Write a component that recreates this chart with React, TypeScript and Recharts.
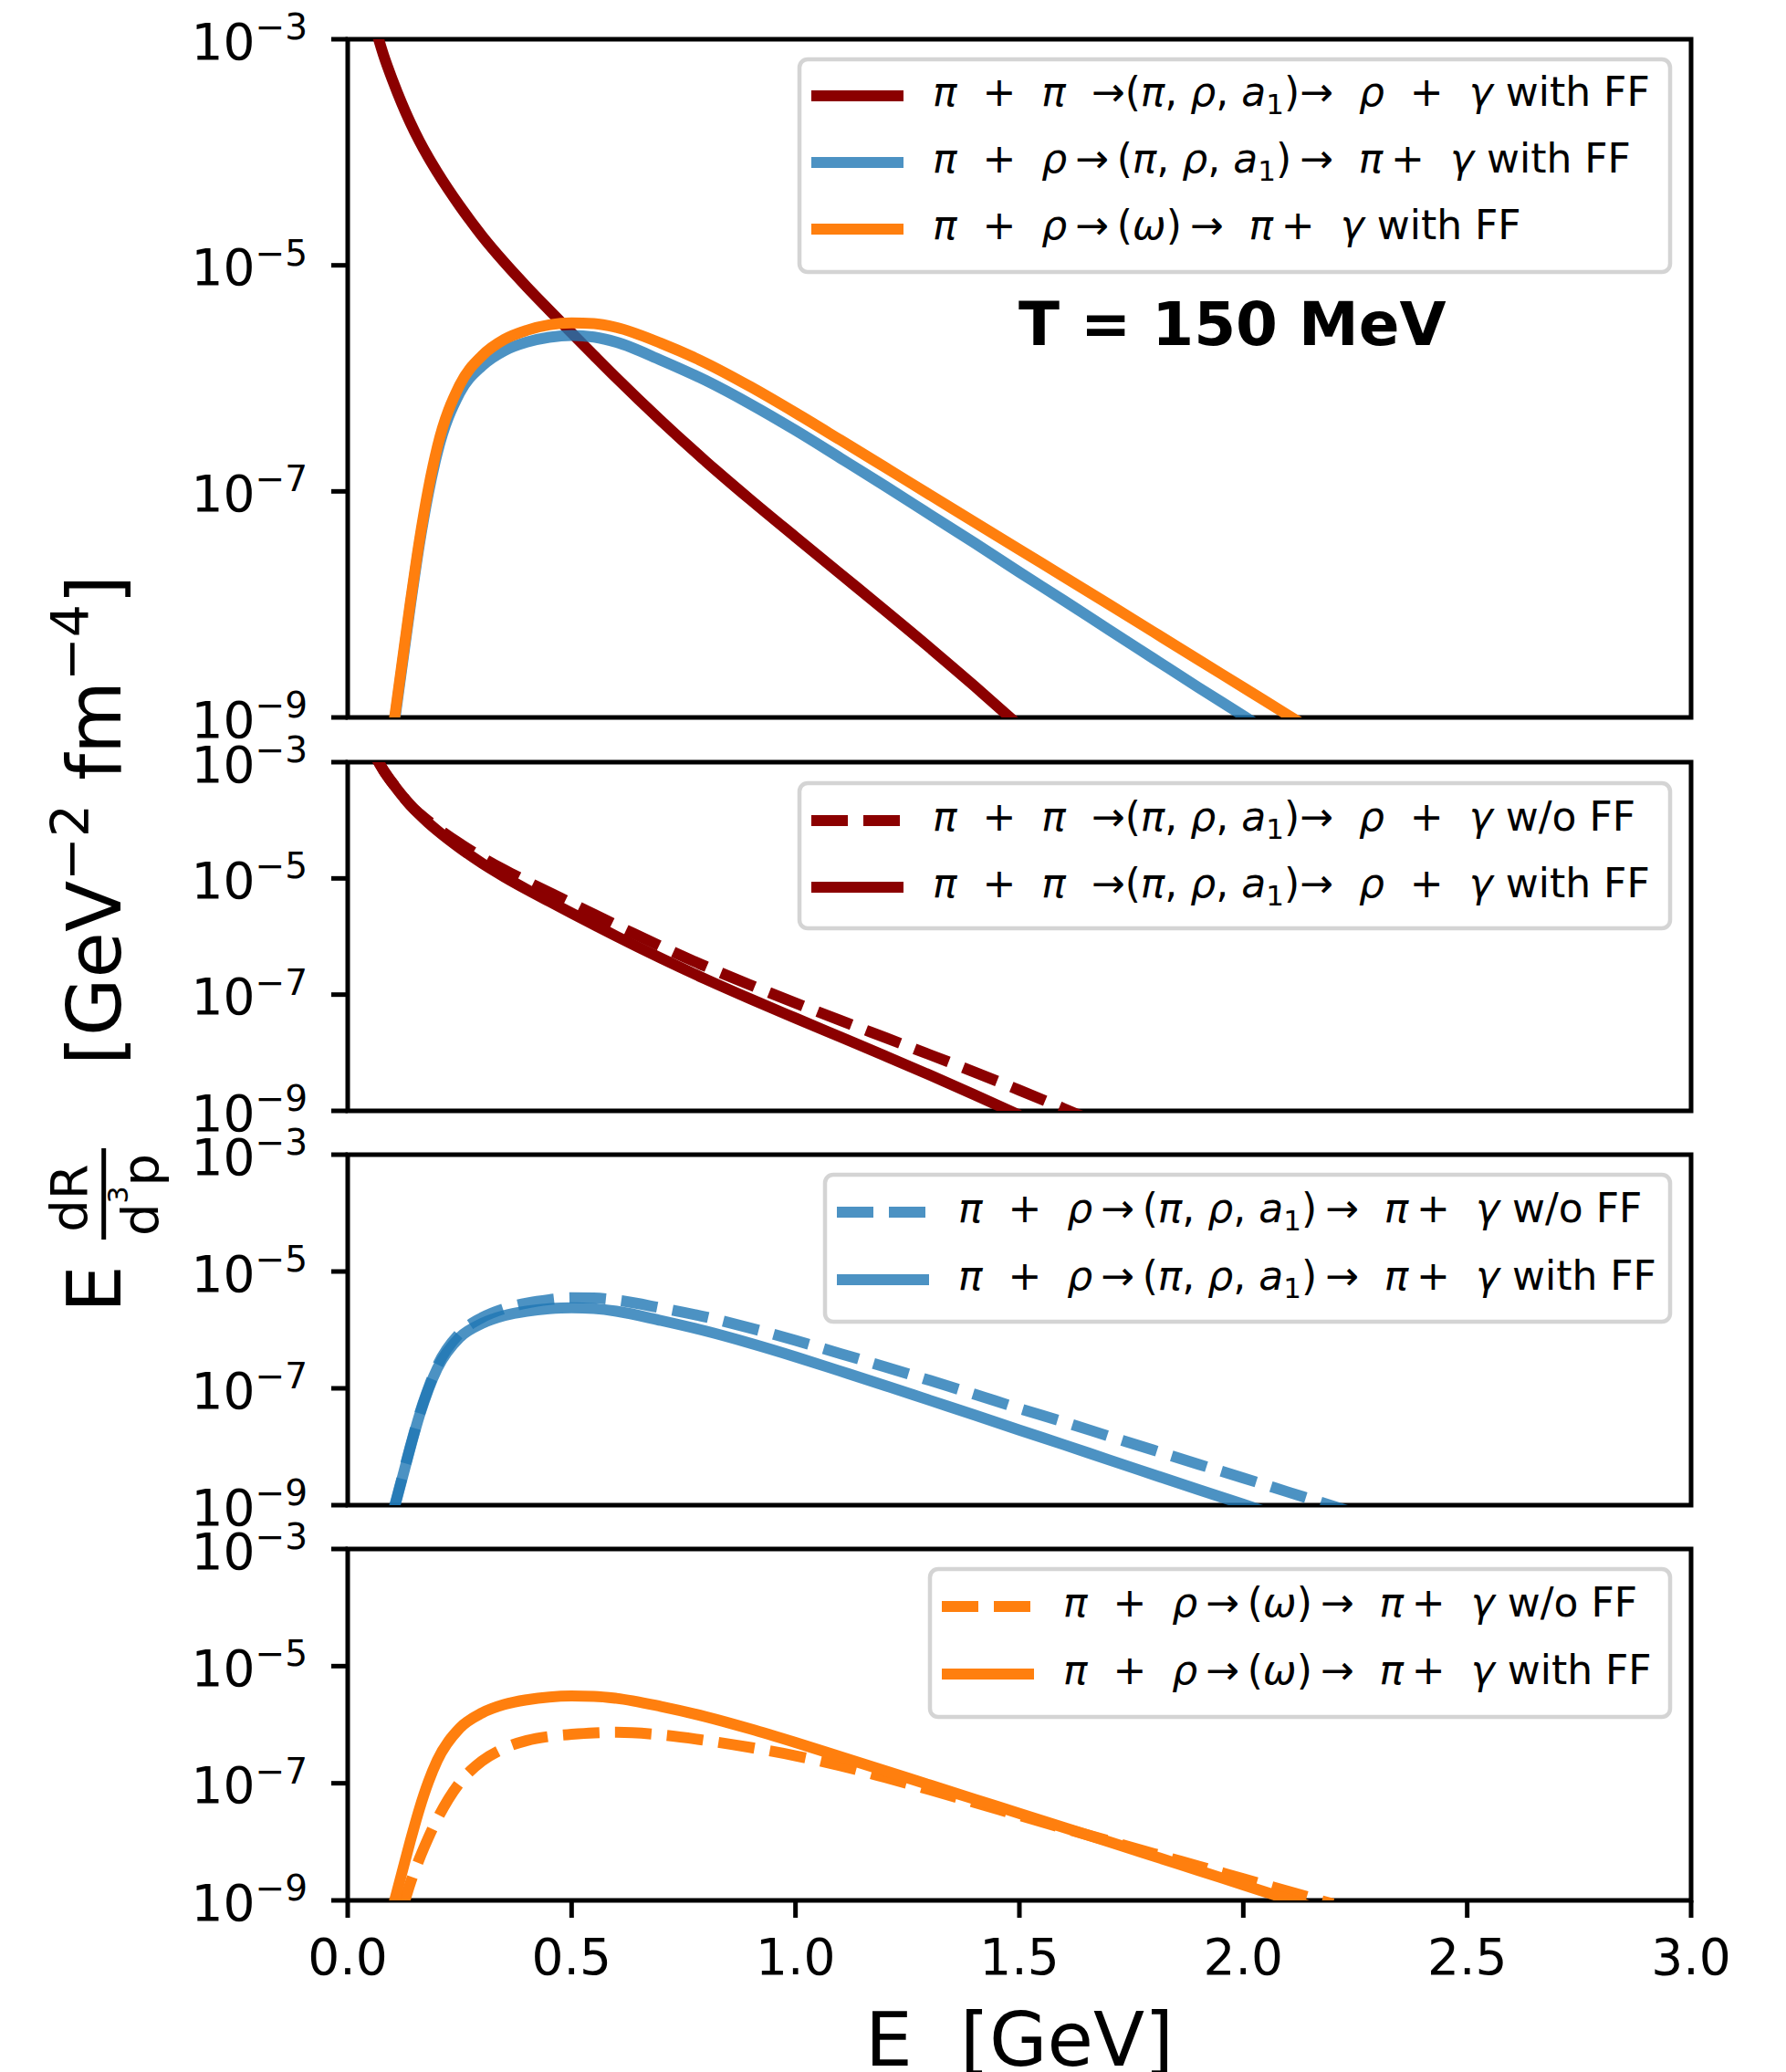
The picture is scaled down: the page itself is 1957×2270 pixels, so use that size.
import React from 'react';
import { LineChart, Line, XAxis, YAxis, ReferenceArea } from 'recharts';

// photon energy grid [GeV]
const energy = [0.06, 0.08, 0.1, 0.12, 0.14, 0.16, 0.18, 0.2, 0.25, 0.3, 0.35, 0.4, 0.45, 0.5, 0.55, 0.6, 0.7, 0.8, 0.9, 1.0, 1.1, 1.2, 1.3, 1.4, 1.5, 1.6, 1.7, 1.8, 1.9, 2.0, 2.1, 2.2, 2.3];

// log10 of E dR/d3p [GeV^-2 fm^-4] (null = not drawn)
const pipiWithFF = [-2.874, -3.14, -3.36, -3.56, -3.74, -3.9, -4.044, -4.176, -4.474, -4.74, -4.975, -5.191, -5.396, -5.598, -5.798, -5.996, -6.376, -6.736, -7.076, -7.404, -7.729, -8.054, -8.384, -8.724, -9.074, null, null, null, null, null, null, null, null];
const pipiNoFF = [-2.874, -3.14, -3.36, -3.56, -3.74, -3.885, -4.014, -4.131, -4.399, -4.64, -4.855, -5.051, -5.241, -5.428, -5.618, -5.806, -6.171, -6.516, -6.836, -7.144, -7.444, -7.739, -8.034, -8.334, -8.644, -8.964, -9.29, null, null, null, null, null, null];
const pirhoA1WithFF = [null, null, -9.17, -8.59, -8.01, -7.47, -7.02, -6.66, -6.13, -5.89, -5.755, -5.68, -5.637, -5.62, -5.635, -5.68, -5.84, -6.02, -6.23, -6.46, -6.705, -6.952, -7.205, -7.457, -7.715, -7.967, -8.225, -8.48, -8.735, -8.985, -9.24, null, null];
const pirhoA1NoFF = [null, null, -9.15, -8.57, -7.99, -7.45, -7.0, -6.62, -6.06, -5.79, -5.635, -5.54, -5.482, -5.45, -5.455, -5.49, -5.625, -5.78, -5.97, -6.18, -6.405, -6.632, -6.865, -7.102, -7.345, -7.577, -7.82, -8.06, -8.3, -8.535, -8.775, -9.015, -9.26];
const pirhoOmegaWithFF = [null, null, -9.14, -8.56, -7.98, -7.44, -6.98, -6.61, -6.06, -5.8, -5.655, -5.575, -5.527, -5.51, -5.515, -5.55, -5.69, -5.865, -6.075, -6.305, -6.545, -6.787, -7.03, -7.272, -7.515, -7.757, -8.0, -8.245, -8.49, -8.735, -8.98, -9.225, null];
const pirhoOmegaNoFF = [null, null, null, -9.2, -8.7, -8.29, -7.93, -7.61, -6.99, -6.62, -6.4, -6.27, -6.2, -6.165, -6.14, -6.13, -6.175, -6.27, -6.39, -6.53, -6.7, -6.9, -7.11, -7.33, -7.55, -7.77, -7.985, -8.2, -8.415, -8.63, -8.845, -9.06, null];

const xTicks = [0, 0.5, 1.0, 1.5, 2.0, 2.5, 3.0];
const yTicks = [1e-9, 1e-7, 1e-5, 1e-3];

const toRate = (v: number | null) => (v == null ? null : Math.pow(10, v));
const rows = energy.map((E, i) => ({
  E,
  pipiWithFF: toRate(pipiWithFF[i]),
  pipiNoFF: toRate(pipiNoFF[i]),
  pirhoA1WithFF: toRate(pirhoA1WithFF[i]),
  pirhoA1NoFF: toRate(pirhoA1NoFF[i]),
  pirhoOmegaWithFF: toRate(pirhoOmegaWithFF[i]),
  pirhoOmegaNoFF: toRate(pirhoOmegaNoFF[i]),
}));

const W = 1957;
const H = 2270;
const PLOT_LEFT = 381;
const PLOT_RIGHT = 1853;
const FONT = 'DejaVu Sans';
const LW = 12;

const RED = '#8b0000';
const BLUE = '#1f77b4';
const ORANGE = '#ff7f0e';
const DASH = '40 17';

type Series = { key: string; color: string; opacity: number; dashed: boolean };

const panels: { top: number; bottom: number; series: Series[] }[] = [
  {
    top: 43,
    bottom: 786,
    series: [
      { key: 'pipiWithFF', color: RED, opacity: 1, dashed: false },
      { key: 'pirhoA1WithFF', color: BLUE, opacity: 0.8, dashed: false },
      { key: 'pirhoOmegaWithFF', color: ORANGE, opacity: 1, dashed: false },
    ],
  },
  {
    top: 835,
    bottom: 1217,
    series: [
      { key: 'pipiNoFF', color: RED, opacity: 1, dashed: true },
      { key: 'pipiWithFF', color: RED, opacity: 1, dashed: false },
    ],
  },
  {
    top: 1265,
    bottom: 1649,
    series: [
      { key: 'pirhoA1NoFF', color: BLUE, opacity: 0.8, dashed: true },
      { key: 'pirhoA1WithFF', color: BLUE, opacity: 0.8, dashed: false },
    ],
  },
  {
    top: 1697,
    bottom: 2082,
    series: [
      { key: 'pirhoOmegaNoFF', color: ORANGE, opacity: 1, dashed: true },
      { key: 'pirhoOmegaWithFF', color: ORANGE, opacity: 1, dashed: false },
    ],
  },
];

const YTick = (props: any) => {
  const { x, y, payload } = props;
  const exp = Math.round(Math.log10(payload.value));
  return (
    <text x={x} y={y + 21.6} textAnchor="end" fontFamily={FONT} fontSize={55} fill="#000">
      10
      <tspan dy={-21.6} fontSize={39}>{`\u2212${-exp}`}</tspan>
    </text>
  );
};

const XTick = (props: any) => {
  const { x, y, payload } = props;
  return (
    <text x={x} y={y} dy={52} textAnchor="middle" fontFamily={FONT} fontSize={55} fill="#000">
      {Number(payload.value).toFixed(1)}
    </text>
  );
};

type Part = { t: string; it?: boolean; sub?: boolean };
const pipiLabel = (suffix: string): Part[] => [
  { t: 'π', it: true }, { t: '  +  ' }, { t: 'π', it: true }, { t: '  →(' }, { t: 'π', it: true }, { t: ', ' },
  { t: 'ρ', it: true }, { t: ', ' }, { t: 'a', it: true }, { t: '1', sub: true }, { t: ')→  ' },
  { t: 'ρ', it: true }, { t: '  +  ' }, { t: 'γ', it: true }, { t: ' ' + suffix },
];
const pirhoA1Label = (suffix: string): Part[] => [
  { t: 'π', it: true }, { t: '  +  ' }, { t: 'ρ', it: true }, { t: '\u2009→\u2009(' }, { t: 'π', it: true }, { t: ', ' },
  { t: 'ρ', it: true }, { t: ', ' }, { t: 'a', it: true }, { t: '1', sub: true }, { t: ')\u2009→  ' },
  { t: 'π', it: true }, { t: '\u2009+  ' }, { t: 'γ', it: true }, { t: ' ' + suffix },
];
const pirhoOmegaLabel = (suffix: string): Part[] => [
  { t: 'π', it: true }, { t: '  +  ' }, { t: 'ρ', it: true }, { t: '\u2009→\u2009(' }, { t: 'ω', it: true }, { t: ')\u2009→  ' },
  { t: 'π', it: true }, { t: '\u2009+  ' }, { t: 'γ', it: true }, { t: ' ' + suffix },
];

type LegendRow = { parts: Part[]; color: string; opacity: number; dashed: boolean; y: number };
type LegendSpec = { left: number; top: number; bottom: number; rows: LegendRow[] };

const legends: LegendSpec[] = [
  {
    left: 876, top: 65, bottom: 298,
    rows: [
      { parts: pipiLabel('with FF'), color: RED, opacity: 1, dashed: false, y: 105 },
      { parts: pirhoA1Label('with FF'), color: BLUE, opacity: 0.8, dashed: false, y: 178 },
      { parts: pirhoOmegaLabel('with FF'), color: ORANGE, opacity: 1, dashed: false, y: 251 },
    ],
  },
  {
    left: 876, top: 858, bottom: 1017,
    rows: [
      { parts: pipiLabel('w/o FF'), color: RED, opacity: 1, dashed: true, y: 899 },
      { parts: pipiLabel('with FF'), color: RED, opacity: 1, dashed: false, y: 972 },
    ],
  },
  {
    left: 904, top: 1287, bottom: 1448,
    rows: [
      { parts: pirhoA1Label('w/o FF'), color: BLUE, opacity: 0.8, dashed: true, y: 1328 },
      { parts: pirhoA1Label('with FF'), color: BLUE, opacity: 0.8, dashed: false, y: 1402 },
    ],
  },
  {
    left: 1019, top: 1719, bottom: 1881,
    rows: [
      { parts: pirhoOmegaLabel('w/o FF'), color: ORANGE, opacity: 1, dashed: true, y: 1760 },
      { parts: pirhoOmegaLabel('with FF'), color: ORANGE, opacity: 1, dashed: false, y: 1834 },
    ],
  },
];

function LegendBox({ spec }: { spec: LegendSpec }) {
  const right = 1830;
  const hx = spec.left + 13;
  return (
    <g>
      <rect x={spec.left} y={spec.top} width={right - spec.left} height={spec.bottom - spec.top} rx={9} ry={9}
        fill="#fff" fillOpacity={0.8} stroke="#d4d4d4" strokeWidth={4.5} />
      {spec.rows.map((r, i) => {
        let shifted = false;
        return (
          <g key={i}>
            <line x1={hx} x2={hx + 101} y1={r.y} y2={r.y} stroke={r.color} strokeOpacity={r.opacity}
              strokeWidth={LW} strokeDasharray={r.dashed ? DASH : undefined} />
            <text x={hx + 133} y={r.y + 11} fontFamily={FONT} fontSize={44} fill="#000" style={{ whiteSpace: 'pre' }}>
              {r.parts.map((p, j) => {
                let dy = 0;
                if (p.sub) { dy = 9; shifted = true; } else if (shifted) { dy = -9; shifted = false; }
                return (
                  <tspan key={j} dy={dy} fontStyle={p.it ? 'italic' : 'normal'} fontSize={p.sub ? 31 : 44}>
                    {p.t}
                  </tspan>
                );
              })}
            </text>
          </g>
        );
      })}
    </g>
  );
}

export default function App() {
  return (
    <div style={{ position: 'absolute', left: 0, top: 0, width: W, height: H, background: '#fff' }}>
      {panels.map((p, idx) => {
        const last = idx === panels.length - 1;
        const xAxisH = last ? 100 : 0;
        return (
          <div key={idx} style={{ position: 'absolute', left: 0, top: 0 }}>
            <LineChart width={W} height={H} data={rows}
              margin={{ top: p.top, right: W - PLOT_RIGHT, bottom: H - p.bottom - xAxisH, left: 0 }}>
              <XAxis type="number" dataKey="E" domain={[0, 3]} ticks={xTicks} interval={0} hide={!last}
                height={xAxisH} axisLine={false} tickSize={19} tickMargin={10}
                tickLine={{ stroke: '#000', strokeWidth: 5 }} tick={<XTick />} />
              <YAxis type="number" scale="log" domain={[1e-9, 1e-3]} allowDataOverflow ticks={yTicks} interval={0}
                width={PLOT_LEFT} axisLine={false} tickSize={18} tickMargin={26}
                tickLine={{ stroke: '#000', strokeWidth: 5 }} tick={<YTick />} />
              {p.series.map((s) => (
                <Line key={s.key} dataKey={s.key} type="monotone" stroke={s.color} strokeOpacity={s.opacity}
                  strokeWidth={LW} strokeDasharray={s.dashed ? DASH : undefined} dot={false}
                  activeDot={false} isAnimationActive={false} connectNulls={false} strokeLinejoin="round" />
              ))}
              <ReferenceArea x1={0} x2={3} y1={1e-9} y2={1e-3} fill="none" stroke="#000" strokeWidth={5} ifOverflow="visible" />
            </LineChart>
          </div>
        );
      })}
      <svg width={W} height={H} style={{ position: 'absolute', left: 0, top: 0, pointerEvents: 'none' }}>
        {legends.map((l, i) => (
          <LegendBox key={i} spec={l} />
        ))}
        <text x={1116} y={378} fontFamily={FONT} fontSize={66} fontWeight="bold" fill="#000">T = 150 MeV</text>
        <text x={1117} y={2263} textAnchor="middle" fontFamily={FONT} fontSize={82} fill="#000" style={{ whiteSpace: 'pre' }}>
          E  [GeV]
        </text>
        <g transform="translate(131.7,1430) rotate(-90)" fontFamily={FONT} fill="#000">
          <text x={-8} y={0} fontSize={82}>E</text>
          <line x1={72} x2={172} y1={-18} y2={-18} stroke="#000" strokeWidth={5} />
          <text x={117.5} y={-36.7} textAnchor="middle" fontSize={56}>dR</text>
          <text x={121} y={41.6} textAnchor="middle" fontSize={56}>
            d<tspan dy={-33} fontSize={30}>3</tspan><tspan dy={33}>p</tspan>
          </text>
          <text x={263} y={0} fontSize={82} style={{ whiteSpace: 'pre' }}>
            [GeV<tspan dy={-35} fontSize={57}>{'\u22122'}</tspan>
            <tspan dy={35}>{' fm'}</tspan>
            <tspan dy={-35} fontSize={57}>{'\u22124'}</tspan>
            <tspan dy={35}>]</tspan>
          </text>
        </g>
      </svg>
    </div>
  );
}
